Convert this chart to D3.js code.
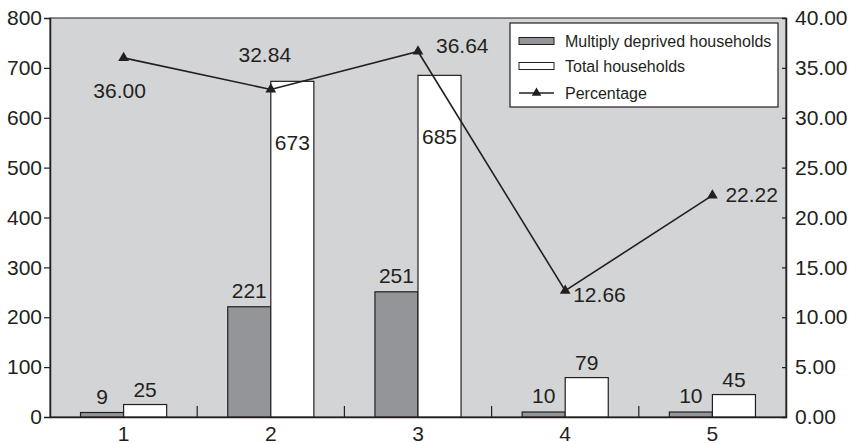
<!DOCTYPE html>
<html>
<head>
<meta charset="utf-8">
<script src="https://cdn.jsdelivr.net/npm/d3@7"></script>
<style>
  html, body { margin: 0; padding: 0; background: #ffffff; }
  svg { display: block; font-family: "Liberation Sans", Arial, Helvetica, sans-serif; }
</style>
</head>
<body>
<svg id="chart" width="858" height="443"></svg>
<script>
// Categories and series
const categories = ["1", "2", "3", "4", "5"];
const deprived = [9, 221, 251, 10, 10];
const totalHouseholds = [25, 673, 685, 79, 45];
const percentage = [36.00, 32.84, 36.64, 12.66, 22.22];
const leftTicks = [0, 100, 200, 300, 400, 500, 600, 700, 800];
const rightTicks = [0, 5, 10, 15, 20, 25, 30, 35, 40];
const seriesNames = ["Multiply deprived households", "Total households", "Percentage"];

const ink = "#231f20";
const plotBg = "#d3d4d6";
const greyBar = "#939598";

const svg = d3.select("#chart");
const m = { left: 50, right: 72, top: 18, bottom: 26 };
const W = 858, H = 443;
const x0 = m.left, x1 = W - m.right, yTop = m.top, yBot = H - m.bottom;

const x = d3.scaleBand().domain(categories).range([x0, x1]).padding(0);
const yL = d3.scaleLinear().domain([0, 800]).range([yBot, yTop]);
const yR = d3.scaleLinear().domain([0, 40]).range([yBot, yTop]);

const barW = x.bandwidth() * 0.2925;

// plot background
svg.append("rect")
  .attr("x", x0).attr("y", yTop)
  .attr("width", x1 - x0).attr("height", yBot - yTop)
  .attr("fill", plotBg).attr("stroke", ink).attr("stroke-width", 1);

// bars
const gBars = svg.append("g");
categories.forEach((c, i) => {
  const cx = x(c) + x.bandwidth() / 2;
  gBars.append("rect")
    .attr("x", cx - barW).attr("y", yL(deprived[i]))
    .attr("width", barW).attr("height", yL(0) - yL(deprived[i]))
    .attr("fill", greyBar).attr("stroke", ink).attr("stroke-width", 1.2);
  gBars.append("rect")
    .attr("x", cx).attr("y", yL(totalHouseholds[i]))
    .attr("width", barW).attr("height", yL(0) - yL(totalHouseholds[i]))
    .attr("fill", "#ffffff").attr("stroke", ink).attr("stroke-width", 1.2);
});

// bar value labels
const labelFont = 21;
categories.forEach((c, i) => {
  const cx = x(c) + x.bandwidth() / 2;
  gBars.append("text")
    .attr("x", cx - barW / 2).attr("y", yL(deprived[i]) - 9)
    .attr("text-anchor", "middle").attr("font-size", labelFont).attr("fill", ink)
    .text(deprived[i]);
  // tall bars carry their label inside, below the line
  const inside = totalHouseholds[i] > 400;
  gBars.append("text")
    .attr("x", cx + barW / 2)
    .attr("y", inside ? yL(totalHouseholds[i]) + 69 : yL(totalHouseholds[i]) - 8)
    .attr("text-anchor", "middle").attr("font-size", labelFont).attr("fill", ink)
    .text(totalHouseholds[i]);
});

// axes
const axL = d3.axisLeft(yL).tickValues(leftTicks).tickSize(6).tickPadding(2);
const gL = svg.append("g").attr("transform", `translate(${x0},0)`).call(axL);
const axR = d3.axisRight(yR).tickValues(rightTicks).tickSize(-4).tickPadding(9)
  .tickFormat(d3.format(".2f"));
const gR = svg.append("g").attr("transform", `translate(${x1},0)`).call(axR);
const axB = d3.axisBottom(x).tickSize(0).tickPadding(9);
const gB = svg.append("g").attr("transform", `translate(0,${yBot})`).call(axB);

[gL, gR, gB].forEach(g => {
  g.select(".domain").attr("stroke", ink).attr("stroke-width", 1.5);
  g.selectAll(".tick line").attr("stroke", ink).attr("stroke-width", 1.2);
  g.selectAll(".tick text").attr("fill", ink).attr("font-size", 21)
    .attr("font-family", "'Liberation Sans', Arial, sans-serif");
});
gL.selectAll(".tick").filter(d => d === 0 || d === 800).select("line").remove();
gR.selectAll(".tick").filter(d => d === 0 || d === 40).select("line").remove();
gB.selectAll(".tick text").attr("dy", "0.71em");

// category separators on the bottom axis
svg.append("g").selectAll("line")
  .data(categories.slice(1))
  .join("line")
  .attr("x1", d => x(d)).attr("x2", d => x(d))
  .attr("y1", yBot).attr("y2", yBot - 11)
  .attr("stroke", ink).attr("stroke-width", 1.2);

// percentage line
const pts = categories.map((c, i) => [x(c) + x.bandwidth() / 2, yR(percentage[i])]);
svg.append("path")
  .attr("d", d3.line()(pts))
  .attr("fill", "none").attr("stroke", ink).attr("stroke-width", 1.6);
const tri = d3.symbol().type(d3.symbolTriangle).size(50);
svg.append("g").selectAll("path")
  .data(pts).join("path")
  .attr("transform", d => `translate(${d[0]},${d[1]})`)
  .attr("d", tri).attr("fill", ink);

// percentage labels, each placed clear of the line
const pctOffsets = [
  { dx: -4, dy: 40, anchor: "middle" },
  { dx: -6, dy: -27, anchor: "middle" },
  { dx: 18, dy: 1, anchor: "start" },
  { dx: 8, dy: 11, anchor: "start" },
  { dx: 13, dy: 7, anchor: "start" }
];
svg.append("g").selectAll("text")
  .data(pts).join("text")
  .attr("x", (d, i) => d[0] + pctOffsets[i].dx)
  .attr("y", (d, i) => d[1] + pctOffsets[i].dy)
  .attr("text-anchor", (d, i) => pctOffsets[i].anchor)
  .attr("font-size", labelFont).attr("fill", ink)
  .text((d, i) => d3.format(".2f")(percentage[i]));

// legend
const lg = svg.append("g").attr("transform", "translate(510,23)");
lg.append("rect").attr("width", 268).attr("height", 84)
  .attr("fill", "#ffffff").attr("stroke", ink).attr("stroke-width", 1.2);
const rowY = [18, 43, 70];
lg.append("rect").attr("x", 9).attr("y", rowY[0] - 3.5).attr("width", 35).attr("height", 7)
  .attr("fill", greyBar).attr("stroke", ink).attr("stroke-width", 1);
lg.append("rect").attr("x", 9).attr("y", rowY[1] - 3.5).attr("width", 35).attr("height", 7)
  .attr("fill", "#ffffff").attr("stroke", ink).attr("stroke-width", 1);
lg.append("line").attr("x1", 9).attr("x2", 44).attr("y1", rowY[2]).attr("y2", rowY[2])
  .attr("stroke", ink).attr("stroke-width", 1.6);
lg.append("path").attr("transform", `translate(26.5,${rowY[2]})`)
  .attr("d", d3.symbol().type(d3.symbolTriangle).size(40)).attr("fill", ink);
lg.selectAll("text.lbl").data(seriesNames).join("text")
  .attr("class", "lbl")
  .attr("x", 55).attr("y", (d, i) => rowY[i])
  .attr("dy", "0.35em")
  .attr("font-size", 16).attr("fill", ink)
  .text(d => d);
</script>
</body>
</html>
